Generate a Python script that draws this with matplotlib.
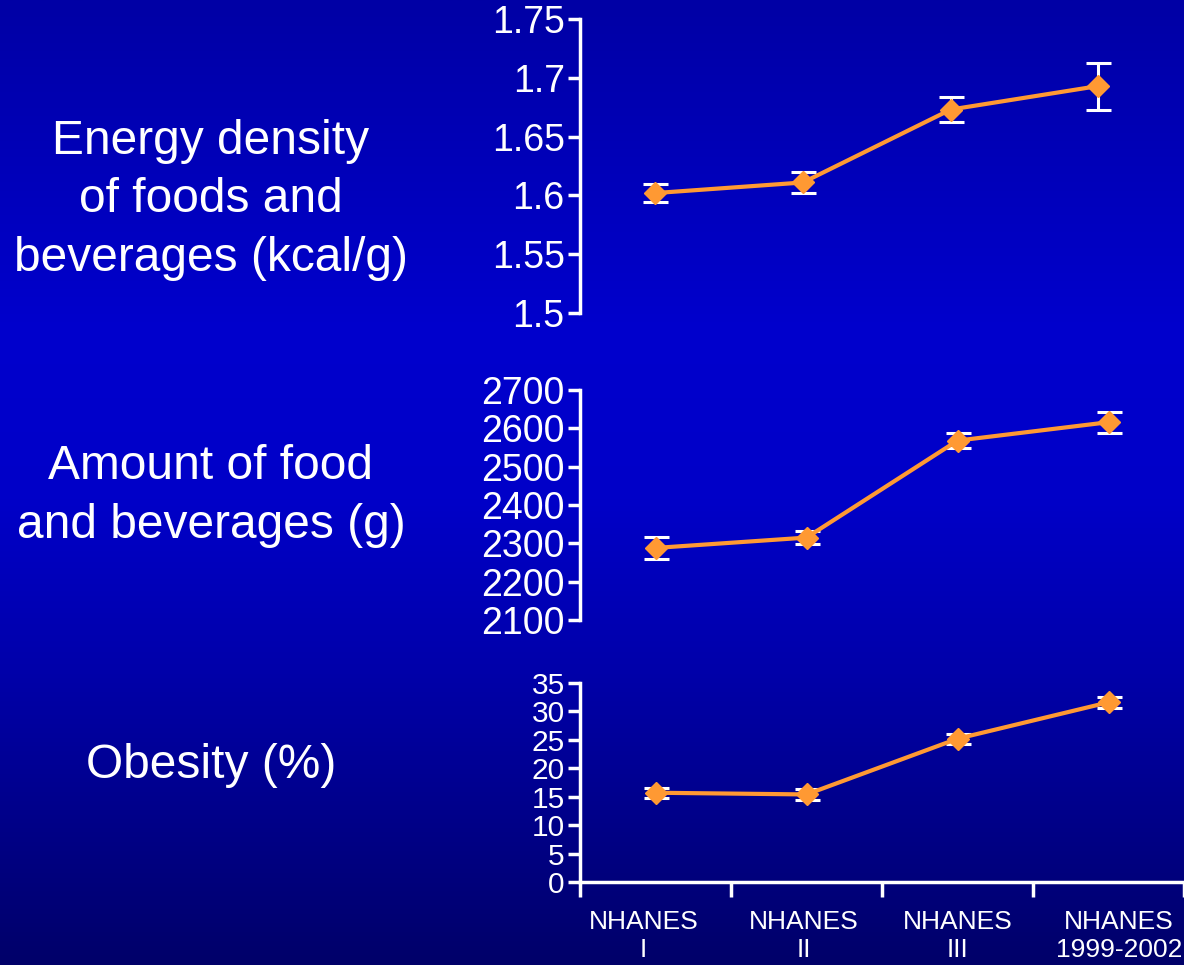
import numpy as np
import matplotlib
matplotlib.use("Agg")
import matplotlib.pyplot as plt
from matplotlib.ticker import FuncFormatter

plt.rcParams['font.family'] = ['Liberation Sans', 'DejaVu Sans']

# data ###############################################################
surveys = ["NHANES\nI", "NHANES\nII", "NHANES\nIII", "NHANES\n1999-2002"]

energy_density = [1.602, 1.611, 1.673, 1.693]
energy_err = [0.008, 0.009, 0.011, 0.020]

food_amount = [2288, 2315, 2568, 2616]
food_err = [29, 18, 19, 27]

obesity = [15.7, 15.4, 25.2, 31.6]
obesity_err = [0.9, 0.9, 0.9, 1.0]

titles = ["Energy density\nof foods and\nbeverages (kcal/g)",
          "Amount of food\nand beverages (g)",
          "Obesity (%)"]

orange = '#FF9933'
white = 'white'

fig = plt.figure(figsize=(11.84, 9.65), dpi=100)

# background gradient
bg = fig.add_axes([0, 0, 1, 1])
yy = np.linspace(0, 965, 400)
blue = np.interp(yy, [0, 330, 500, 670, 965], [165, 205, 200, 170, 105]) / 255.0
grad = np.zeros((len(yy), 1, 3))
grad[:, 0, 2] = blue
bg.imshow(grad, aspect='auto', extent=[0, 1, 0, 1], origin='upper')
bg.axis('off')

left = 580 / 1184
w = 1 - left
ax1 = fig.add_axes([left, 1 - 313 / 965, w, (313 - 19) / 965])
ax2 = fig.add_axes([left, 1 - 620 / 965, w, (620 - 390) / 965])
ax3 = fig.add_axes([left, 1 - 882 / 965, w, (882 - 683) / 965])

x = np.arange(len(surveys))


def draw(ax, vals, errs, ylim, yticks, fs):
    ax.set_facecolor('none')
    ax.errorbar(x, vals, yerr=errs, fmt='none', ecolor=white, elinewidth=2.2,
                capsize=9, capthick=2.2, zorder=2)
    ax.plot(x, vals, color=orange, lw=3, marker='D', markersize=11, zorder=3,
            clip_on=False)
    ax.set_ylim(*ylim)
    ax.set_yticks(yticks)
    for s in ['top', 'right', 'bottom']:
        ax.spines[s].set_visible(False)
    ax.spines['left'].set_color(white)
    ax.spines['left'].set_linewidth(2.5)
    ax.tick_params(axis='y', colors=white, labelsize=fs, width=2.5, length=9,
                   direction='out', pad=2)
    ax.set_xticks([])


draw(ax1, energy_density, energy_err, (1.5, 1.75),
     [1.5, 1.55, 1.6, 1.65, 1.7, 1.75], 27)
ax1.yaxis.set_major_formatter(FuncFormatter(lambda v, p: '%g' % round(v, 2)))
ax1.set_xlim(-0.51, 3.58)

draw(ax2, food_amount, food_err, (2100, 2700), np.arange(2100, 2701, 100), 27)
ax2.set_xlim(-0.5, 3.5)

draw(ax3, obesity, obesity_err, (0, 35), np.arange(0, 36, 5), 21.5)
ax3.set_xlim(-0.5, 3.5)
ax3.spines['bottom'].set_visible(True)
ax3.spines['bottom'].set_color(white)
ax3.spines['bottom'].set_linewidth(2.5)
ax3.set_xticks([-0.5, 0.5, 1.5, 2.5, 3.5])
ax3.set_xticklabels([])
# label positions sit a little off the category centres in the original
ax3.set_xticks([-0.08, 0.98, 2.0, 3.07], minor=True)
ax3.set_xticklabels(surveys, minor=True, fontsize=19, color=white,
                    linespacing=1.2)
ax3.tick_params(axis='x', which='major', colors=white, width=2.5, length=11,
                direction='out')
ax3.tick_params(axis='x', which='minor', length=0, pad=20)

title_y = [1 - 200 / 965, 1 - 496 / 965, 1 - 766 / 965]
for t, ty in zip(titles, title_y):
    fig.text(211 / 1184, ty, t, ha='center', va='center', fontsize=34.5,
             color=white, linespacing=1.38)

fig.savefig('out.png', dpi=100)
